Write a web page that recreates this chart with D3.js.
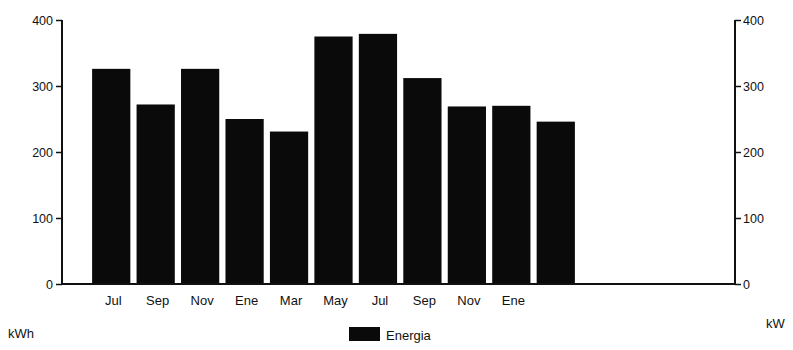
<!DOCTYPE html>
<html>
<head>
<meta charset="utf-8">
<script src="https://cdn.jsdelivr.net/npm/d3@7"></script>
<style>
	body { margin: 0; background: #fff; }
	text { font-family: "Liberation Sans", Arial, sans-serif; fill: #111; }
</style>
</head>
<body>
	<svg id="chart"></svg>

<script type="text/javascript">

	// data
	let months = ["Jul", "Sep", "Nov", "Ene", "Mar", "May", "Jul2", "Sep2", "Nov2", "Ene2", "Mar2"];
	let monthLabels = ["Jul", "Sep", "Nov", "Ene", "Mar", "May", "Jul", "Sep", "Nov", "Ene", ""];
	let energia = [326, 272, 326, 250, 231, 375, 379, 312, 269, 270, 246];
	let yTicks = [0, 100, 200, 300, 400];

	//Size specifications
	let width = 793;
	let height = 350;
	let leftAxisX = 62;
	let rightAxisX = 735;
	let yTop = 20;
	let yBottom = 284;

	let chart = d3.select("#chart")
		.attr("width", width)
		.attr("height", height);

	let xScale = d3.scaleBand()
		.domain(months)
		.range([89, 578])
		.paddingInner(0.14)
		.paddingOuter(0.07);

	let yScale = d3.scaleLinear()
		.domain([0, 400])
		.range([yBottom, yTop]);

	// bars
	chart.selectAll("rect.bar")
		.data(energia)
		.enter().append("rect")
		.classed("bar", true)
		.attr("x", function(d, i){ return xScale(months[i]) })
		.attr("width", xScale.bandwidth())
		.attr("y", function(d){ return yScale(d) })
		.attr("height", function(d){ return yScale(0) - yScale(d) })
		.style("fill", "#0a0a0a");

	// left axis (kWh)
	let yAxisLeft = d3.axisLeft(yScale)
		.tickValues(yTicks)
		.tickSize(6)
		.tickPadding(3);
	let leftGlyph = chart.append("g")
		.attr("transform", "translate(" + leftAxisX + ",0)")
		.call(yAxisLeft);

	// right axis (kW)
	let yAxisRight = d3.axisRight(yScale)
		.tickValues(yTicks)
		.tickSize(6)
		.tickPadding(2);
	let rightGlyph = chart.append("g")
		.attr("transform", "translate(" + rightAxisX + ",0)")
		.call(yAxisRight);

	[leftGlyph, rightGlyph].forEach(function(g){
		g.select(".domain").attr("stroke", "#111").attr("stroke-width", 2);
		g.selectAll(".tick line").attr("stroke", "#111").attr("stroke-width", 1.5);
		g.selectAll(".tick text")
			.style("font-size", "12.5px")
			.style("font-family", "Liberation Sans, Arial, sans-serif")
			.attr("fill", "#111");
	});
	leftGlyph.select(".domain").attr("d", "M0," + yTop + "V" + yBottom);
	rightGlyph.select(".domain").attr("d", "M0," + yTop + "V" + yBottom);

	// baseline across the whole plot
	chart.append("line")
		.attr("x1", leftAxisX)
		.attr("x2", rightAxisX)
		.attr("y1", yScale(0))
		.attr("y2", yScale(0))
		.attr("stroke", "#111")
		.attr("stroke-width", 2);

	// month labels
	chart.selectAll("text.month")
		.data(months)
		.enter().append("text")
		.classed("month", true)
		.attr("x", function(d){ return xScale(d) + xScale.bandwidth() / 2 + 2 })
		.attr("y", 305)
		.attr("text-anchor", "middle")
		.style("font-size", "13px")
		.text(function(d, i){ return monthLabels[i] });

	// units
	chart.append("text")
		.attr("x", 8)
		.attr("y", 338)
		.style("font-size", "13px")
		.text("kWh");

	chart.append("text")
		.attr("x", 766)
		.attr("y", 328)
		.style("font-size", "13px")
		.text("kW");

	// legend
	chart.append("rect")
		.attr("x", 349)
		.attr("y", 327)
		.attr("width", 31)
		.attr("height", 14)
		.style("fill", "#0a0a0a");

	chart.append("text")
		.attr("x", 386)
		.attr("y", 340)
		.style("font-size", "13px")
		.text("Energia");

</script>
</body>
</html>
